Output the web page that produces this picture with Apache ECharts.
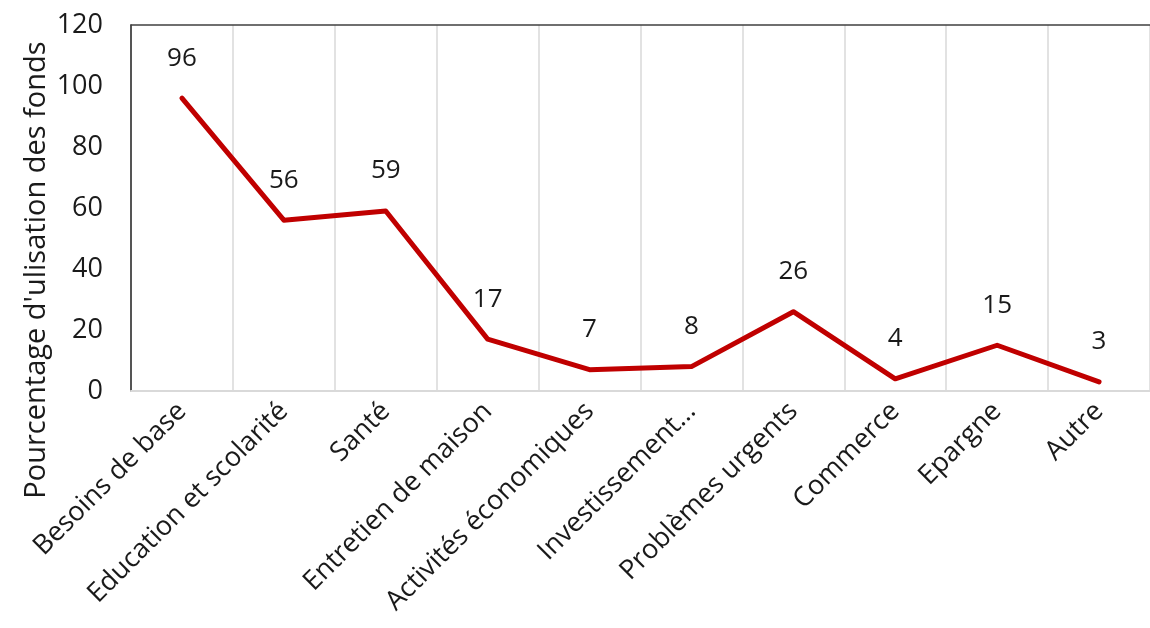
<!DOCTYPE html>
<html>
<head>
<meta charset="utf-8">
<script src="https://cdn.jsdelivr.net/npm/echarts@6/dist/echarts.min.js"></script>
<style>
  html, body { margin: 0; padding: 0; background: #fff; }
  #my_echart { width: 1150px; height: 628px; }
</style>
</head>
<body>
<div id="my_echart"></div>
<script>
// catégories et valeurs
const categories = [
  "Besoins de base",
  "Education et scolarité",
  "Santé",
  "Entretien de maison",
  "Activités économiques",
  "Investissement…",
  "Problèmes urgents",
  "Commerce",
  "Epargne",
  "Autre"
];
const values = [96, 56, 59, 17, 7, 8, 26, 4, 15, 3];
const yTicks = [0, 20, 40, 60, 80, 100, 120];

const font = "Open Sans";
const chart = echarts.init(document.getElementById("my_echart"));

chart.setOption({
  animation: false,
  grid: { left: 131, top: 25, width: 1032, bottom: 237 },
  graphic: [
    {
      type: "text",
      x: 37,
      y: 270,
      rotation: Math.PI / 2,
      style: {
        text: "Pourcentage d'ulisation des fonds",
        font: "29px " + font,
        fill: "#1a1a1a",
        align: "center",
        verticalAlign: "middle"
      }
    }
  ],
  xAxis: [
    {
      type: "category",
      data: categories,
      boundaryGap: true,
      axisTick: { show: false },
      axisLine: { lineStyle: { color: "#d9d9d9", width: 2 } },
      splitLine: { show: true, lineStyle: { color: "#d9d9d9", width: 1.5 } },
      axisLabel: {
        interval: 0,
        rotate: 45,
        margin: 16,
        color: "#1a1a1a",
        fontFamily: font,
        fontSize: 27
      }
    },
    {
      type: "category",
      position: "top",
      data: categories,
      axisTick: { show: false },
      axisLabel: { show: false },
      axisLine: { lineStyle: { color: "#404040", width: 1.5 } }
    }
  ],
  yAxis: {
    type: "value",
    min: yTicks[0],
    max: yTicks[yTicks.length - 1],
    interval: 20,
    axisLine: { show: true, lineStyle: { color: "#262626", width: 1.5 } },
    axisTick: { show: false },
    splitLine: { show: false },
    axisLabel: {
      margin: 28,
      color: "#1a1a1a",
      fontFamily: font,
      fontSize: 27
    }
  },
  series: [
    {
      type: "line",
      data: values,
      symbol: "circle",
      symbolSize: 2,
      itemStyle: { color: "rgba(192,0,0,0)" },
      lineStyle: { color: "#c00000", width: 5, join: "round", cap: "round" },
      label: {
        show: true,
        position: "top",
        distance: 26,
        color: "#1a1a1a",
        fontFamily: font,
        fontSize: 26
      }
    }
  ]
});
</script>
</body>
</html>
